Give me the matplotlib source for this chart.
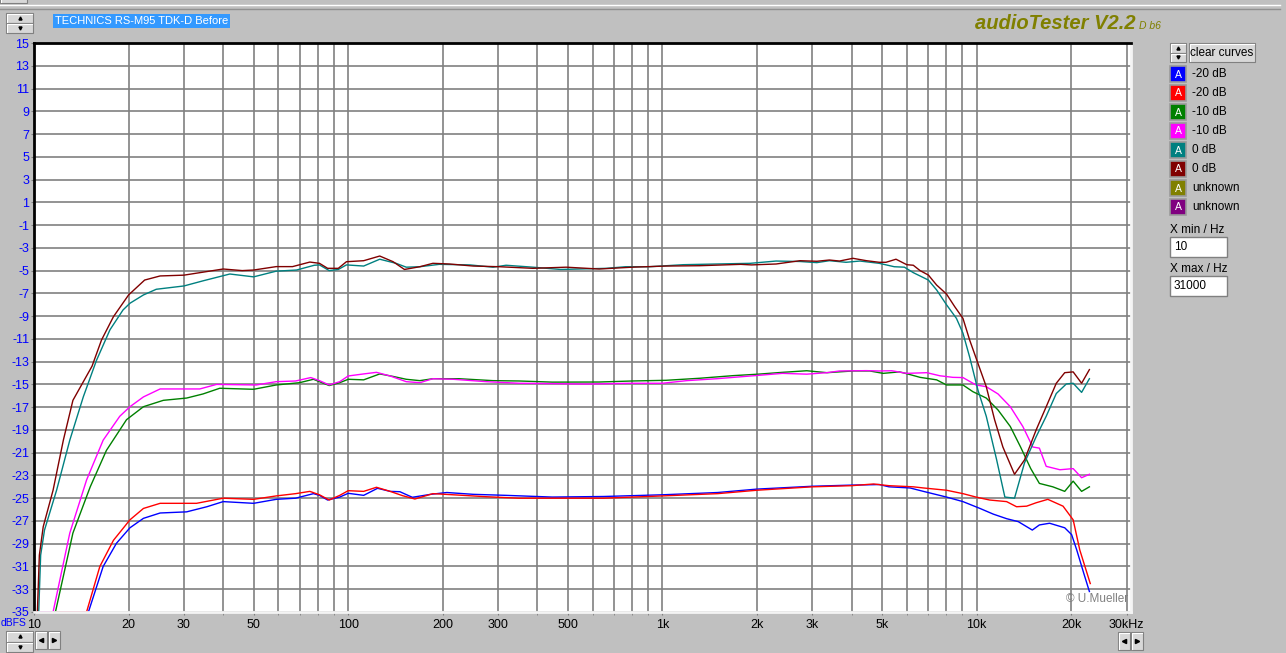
import numpy as np
import matplotlib
matplotlib.use('Agg')
import matplotlib.pyplot as plt
from matplotlib.patches import Rectangle

W, H = 1286, 653
plt.rcParams['font.family'] = ['Liberation Sans', 'DejaVu Sans']
plt.rcParams['axes.unicode_minus'] = False

f_blue = [10, 14.9, 16.6, 18.3, 20.2, 22.3, 25.2, 30.6, 35.5, 40, 50, 59, 68, 77.5, 81, 86, 94, 100,
          112, 124, 136, 146, 160, 183, 206, 250, 318, 446, 650, 1000, 1500, 2000, 3000, 4000, 4900,
          5260, 6140, 6770, 8020, 9048, 10250, 11300, 12460, 13570, 15040, 15840, 17070, 19073,
          20060, 20830, 21930, 22854]
db_blue = [-35, -35, -31.0, -28.96, -27.6, -26.77, -26.3, -26.2, -25.75, -25.3, -25.45, -25.1, -25.0,
           -24.6, -24.75, -25.16, -24.9, -24.57, -24.75, -24.13, -24.4, -24.43, -24.92, -24.66, -24.5,
           -24.66, -24.75, -24.9, -24.85, -24.7, -24.5, -24.2, -23.95, -23.85, -23.8, -24.0, -24.1,
           -24.4, -24.9, -25.3, -25.9, -26.4, -26.8, -27.06, -27.8, -27.35, -27.2, -27.6, -28.2,
           -29.55, -31.6, -33.2]

f_red = [10, 14.7, 16.2, 17.9, 20.2, 22.3, 25.2, 32.9, 40, 50, 59, 68, 75.5, 81, 87, 94, 100, 112,
         123, 136, 149, 163, 186, 216, 275, 350, 446, 570, 650, 1000, 1500, 2000, 3000, 4000, 4700,
         5260, 6288, 6770, 8020, 9048, 9954, 11000, 12460, 13400, 14430, 15470, 16850, 18840, 20290,
         21300, 23000]
db_red = [-35, -35, -31.0, -28.7, -26.9, -25.9, -25.45, -25.45, -25.0, -25.1, -24.8, -24.6, -24.4,
          -24.7, -25.16, -24.75, -24.34, -24.4, -24.04, -24.4, -24.78, -25.07, -24.6, -24.7, -24.87,
          -25.0, -25.0, -25.0, -25.0, -24.8, -24.6, -24.3, -24.0, -23.9, -23.75, -23.9, -24.0, -24.1,
          -24.3, -24.6, -24.9, -25.16, -25.3, -25.75, -25.7, -25.4, -25.1, -25.7, -26.9, -29.55, -32.5]

f_green = [10, 11.7, 13.3, 15.1, 17.0, 19.7, 22.3, 25.8, 30.6, 34.5, 39, 50, 59, 70, 77.5, 81, 87,
           94, 100, 112, 126, 139, 153, 169, 186, 225, 289, 350, 446, 629, 802, 1027, 1315, 1680,
           2020, 2410, 2880, 3340, 4040, 4570, 5040, 5680, 5993, 6607, 7460, 8020, 9048, 9730, 10733,
           11700, 12800, 13800, 14870, 15840, 17480, 19073, 20290, 21585, 22854]
db_green = [-35, -35, -28.06, -24.0, -20.8, -18.1, -16.96, -16.4, -16.2, -15.84, -15.34, -15.43,
            -15.05, -14.85, -14.55, -14.76, -15.1, -14.85, -14.55, -14.6, -14.08, -14.3, -14.55,
            -14.67, -14.5, -14.5, -14.67, -14.7, -14.8, -14.79, -14.7, -14.64, -14.46, -14.23, -14.1,
            -13.94, -13.8, -13.97, -13.82, -13.82, -14.03, -13.9, -14.06, -14.38, -14.6, -15.05,
            -15.05, -15.64, -16.2, -17.25, -18.7, -20.5, -22.4, -23.7, -24.0, -24.4, -23.5, -24.4, -24.0]

f_mag = [10, 11.5, 13.0, 14.7, 16.6, 18.75, 20.2, 22.3, 25.2, 33.7, 38.1, 51, 59, 68, 76, 81, 87, 94,
         100, 112, 123, 136, 153, 169, 186, 216, 275, 350, 446, 570, 802, 1000, 1195, 1490, 1970,
         2410, 2880, 3340, 3660, 4460, 4900, 5370, 5993, 6942, 7633, 8400, 9048, 9954, 10733, 11700,
         12800, 14030, 15090, 15840, 16653, 18410, 20290, 21585, 22854]
db_mag = [-35, -35, -28.06, -23.4, -19.9, -17.8, -16.96, -16.1, -15.4, -15.4, -15.0, -15.05, -14.76,
          -14.7, -14.4, -14.67, -15.05, -14.76, -14.26, -14.08, -13.94, -14.26, -14.76, -14.85, -14.5,
          -14.55, -14.76, -14.9, -14.93, -14.97, -14.9, -14.9, -14.67, -14.5, -14.23, -14.03, -14.1,
          -13.97, -13.82, -13.79, -13.82, -13.8, -14.03, -13.97, -14.24, -14.38, -14.4, -15.05, -15.2,
          -15.84, -16.96, -18.7, -20.5, -20.6, -22.2, -22.5, -22.4, -23.2, -22.9]

f_teal = [10, 10.35, 10.5, 10.8, 11.8, 13.0, 14.35, 15.8, 17.45, 19.2, 20.2, 22.3, 24.5, 30, 34.5, 42,
          50, 59, 68.5, 78, 81, 87, 93, 98.7, 112, 126, 142, 153, 169, 195, 244, 289, 318, 387, 474,
          663, 763, 910, 1166, 1490, 1905, 2300, 2740, 3100, 3400, 3840, 4250, 4898, 5470, 5890, 6288,
          7022, 7460, 8020, 8626, 9048, 9503, 10098, 10733, 11575, 12300, 13202, 14202, 15470, 16653,
          17930, 19300, 20290, 21585, 22854]
db_teal = [-35, -35, -30, -27.8, -24.3, -19.9, -16.1, -12.9, -10.2, -8.46, -7.87, -7.14, -6.64, -6.35,
           -5.9, -5.3, -5.55, -5.05, -4.95, -4.53, -4.5, -5.0, -4.9, -4.5, -4.6, -4.0, -4.36, -4.7,
           -4.66, -4.45, -4.5, -4.7, -4.53, -4.7, -4.9, -4.8, -4.66, -4.66, -4.48, -4.42, -4.36, -4.16,
           -4.2, -4.3, -4.13, -4.27, -4.16, -4.36, -4.66, -4.7, -5.18, -5.83, -6.7, -8.0, -9.2, -10.5,
           -12.6, -15.5, -17.8, -21.6, -24.9, -25.0, -21.9, -19.6, -17.8, -15.8, -14.96, -14.9, -15.7,
           -14.5]

f_maroon = [10, 10.25, 10.4, 10.7, 11.5, 12.4, 13.3, 15.3, 16.4, 17.9, 20.0, 22.5, 25.2, 30, 40, 46,
            50, 59, 66.5, 75.5, 81, 86, 93, 98.7, 112, 126, 139, 151, 169, 186, 210, 250, 303, 387,
            494, 629, 802, 1027, 1315, 1775, 1921, 2300, 2740, 3100, 3400, 3660, 4040, 4460, 4898,
            5148, 5539, 5993, 6288, 6607, 7022, 7460, 8020, 8518, 9048, 9503, 10098, 10733, 11407,
            12122, 13202, 14202, 15470, 16653, 17930, 19073, 20290, 21585, 22854]
db_maroon = [-35, -35, -30, -27.5, -24.3, -19.9, -16.4, -13.4, -11.1, -9.05, -7.14, -5.83, -5.47, -5.4,
             -4.86, -5.0, -4.95, -4.65, -4.65, -4.25, -4.36, -4.8, -4.8, -4.22, -4.13, -3.72, -4.22,
             -4.9, -4.66, -4.36, -4.42, -4.6, -4.66, -4.8, -4.7, -4.86, -4.7, -4.6, -4.57, -4.45, -4.5,
             -4.42, -4.13, -4.18, -4.07, -4.16, -3.92, -4.13, -4.27, -4.27, -4.0, -4.48, -4.53, -5.0,
             -5.39, -6.27, -7.06, -8.17, -9.2, -11.1, -13.15, -15.2, -18.1, -20.5, -22.9, -21.64,
             -19.0, -16.96, -14.9, -13.97, -13.9, -14.9, -13.7]

curves = [(f_blue, db_blue, '#0000ff'), (f_red, db_red, '#ff0000'),
          (f_green, db_green, '#008000'), (f_mag, db_mag, '#ff00ff'),
          (f_teal, db_teal, '#008080'), (f_maroon, db_maroon, '#800000')]

legend_labels = ['-20 dB', '-20 dB', '-10 dB', '-10 dB', '0 dB', '0 dB', 'unknown', 'unknown']
legend_colors = ['#0000ff', '#ff0000', '#008000', '#ff00ff', '#008080', '#800000', '#808000', '#800080']

xtick_vals = [10, 20, 30, 50, 100, 200, 300, 500, 1000, 2000, 3000, 5000, 10000, 20000, 30000]
xtick_text = ['10', '20', '30', '50', '100', '200', '300', '500', '1k', '2k', '3k', '5k', '10k', '20k', '30kHz']
ytick_vals = list(range(-35, 16, 2))

fig = plt.figure(figsize=(W / 100, H / 100), dpi=100, facecolor='#c0c0c0')

# window chrome drawn in pixel coordinates
bg = fig.add_axes([0, 0, 1, 1], zorder=0)
bg.set_xlim(0, W)
bg.set_ylim(H, 0)
bg.axis('off')


def button(x, y, w, h):
    bg.add_patch(Rectangle((x, y), w, h, facecolor='#d8d8d8', edgecolor='#808080', lw=0.8))
    bg.plot([x + 1, x + 1, x + w - 1], [y + h - 1, y + 1, y + 1], color='white', lw=0.8)


def spinner(x, y, w, h):
    button(x, y, w, h / 2)
    button(x, y + h / 2, w, h / 2)
    bg.plot(x + w / 2, y + h / 4, marker='^', ms=2.2, color='black')
    bg.plot(x + w / 2, y + 3 * h / 4, marker='v', ms=2.2, color='black')


def arrows(x, y):
    button(x, y, 12, 18)
    button(x + 13, y, 12, 18)
    bg.plot(x + 6, y + 9, marker='<', ms=3, color='black')
    bg.plot(x + 19, y + 9, marker='>', ms=3, color='black')


button(0, -3, 27, 6)
bg.plot([0, 1280], [5, 5], color='white', lw=1)
bg.plot([0, 1280], [9, 9], color='#909090', lw=1)
spinner(6, 13, 27, 20)
bg.text(55, 21, 'TECHNICS RS-M95 TDK-D Before', color='white', fontsize=8, va='center', ha='left',
        bbox=dict(facecolor='#3399ff', edgecolor='none', pad=1.5))

bg.text(975, 29, 'audioTester V2.2', color='#808000', fontsize=14.5, fontweight='bold',
        fontstyle='italic', ha='left', va='baseline')
bg.text(1139, 29, 'D b6', color='#808000', fontsize=7.5, fontstyle='italic', ha='left', va='baseline')

spinner(1170, 43, 16, 19)
button(1189, 43, 66, 19)
bg.text(1222, 53, 'clear curves', fontsize=8.5, ha='center', va='center')

for i, (lab, col) in enumerate(zip(legend_labels, legend_colors)):
    y0 = 66 + 19 * i
    bg.add_patch(Rectangle((1170, y0), 16, 16, facecolor=col, edgecolor='#9a9a9a', lw=1.2))
    bg.text(1178, y0 + 8.5, 'A', color='white', fontsize=7.5, ha='center', va='center')
    bg.text(1192, y0 + 8, lab, fontsize=8.5, ha='left', va='center')

for lab, val, ytop in [('X min / Hz', '10', 237), ('X max / Hz', '31000', 276)]:
    bg.text(1170, ytop - 7, lab, fontsize=8.5, ha='left', va='center')
    bg.add_patch(Rectangle((1170, ytop), 57, 20, facecolor='white', edgecolor='#808080', lw=1))
    bg.text(1174, ytop + 10, val, fontsize=8.5, ha='left', va='center')

bg.text(0.5, 623, 'dBFS', color='#0000ff', fontsize=7.5, ha='left', va='center')
spinner(6, 631, 27, 21)
arrows(35, 631)
arrows(1118, 632)

# plot area
ax = fig.add_axes([34 / W, 1 - 612 / H, 1097 / W, 569 / H], zorder=1)
ax.set_facecolor('white')
ax.set_xscale('log')
ax.set_xlim(10, 31000)
ax.set_ylim(-35, 15)

gridf = [m * 10 ** e for e in range(1, 5) for m in range(1, 10) if m * 10 ** e <= 30000]
ax.set_xticks(gridf, minor=True)
ax.set_xticks(xtick_vals, xtick_text)
ax.set_yticks(ytick_vals)
ax.xaxis.set_minor_formatter(matplotlib.ticker.NullFormatter())
ax.set_axisbelow(True)
ax.grid(True, which='both', axis='x', color='#808080', lw=1.2)
ax.grid(True, which='major', axis='y', color='#808080', lw=1.2)
ax.tick_params(axis='x', which='both', length=2, color='#808080', labelsize=9, pad=3)
ax.tick_params(axis='y', length=2, color='#808080', labelsize=9, labelcolor='#0000ff', pad=1.5)

for side in ['top', 'left']:
    ax.spines[side].set_color('black')
    ax.spines[side].set_linewidth(2)
for side in ['bottom', 'right']:
    ax.spines[side].set_color('#f4f4f4')
    ax.spines[side].set_linewidth(2)

for f, db, col in curves:
    ax.plot(f, db, color=col, lw=1.0)

ax.text(0.9975, 0.013, '\u00a9 U.Mueller', transform=ax.transAxes, color='#808080', fontsize=8.5,
        ha='right', va='bottom')

fig.savefig('out.png', dpi=100, facecolor=fig.get_facecolor())
